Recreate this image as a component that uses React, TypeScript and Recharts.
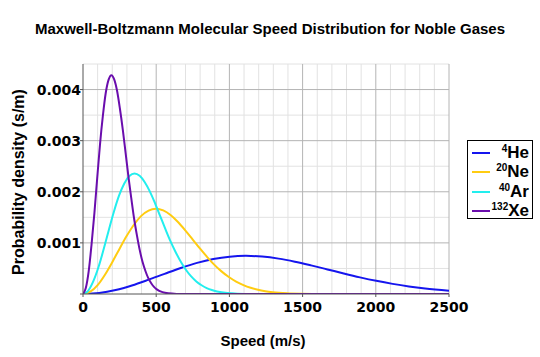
import React from 'react';
import { LineChart, Line, XAxis, YAxis, ReferenceLine } from 'recharts';

// speeds (m/s) and probability density (s/m), per gas
const heSpeed = [0, 111, 223, 334, 445, 557, 668, 779, 890, 1002, 1113, 1224, 1336, 1447, 1558, 1670, 1781, 1892, 2003, 2115, 2226, 2337, 2500];
const heDensity = [0, 0.201e-4, 0.779e-4, 1.668e-4, 2.765e-4, 3.948e-4, 5.093e-4, 6.087e-4, 6.843e-4, 7.307e-4, 7.46e-4, 7.317e-4, 6.919e-4, 6.324e-4, 5.598e-4, 4.809e-4, 4.013e-4, 3.257e-4, 2.573e-4, 1.98e-4, 1.486e-4, 1.087e-4, 0.659e-4];

const neSpeed = [0, 50, 100, 149, 199, 249, 299, 349, 398, 448, 498, 548, 598, 647, 697, 747, 797, 847, 896, 946, 996, 1046, 1096, 1145, 1195, 1245, 1295, 1394, 1494, 1643, 2500];
const neDensity = [0, 0.449e-4, 1.742e-4, 3.727e-4, 6.178e-4, 8.823e-4, 11.381e-4, 13.603e-4, 15.291e-4, 16.327e-4, 16.67e-4, 16.35e-4, 15.46e-4, 14.131e-4, 12.51e-4, 10.746e-4, 8.968e-4, 7.278e-4, 5.75e-4, 4.425e-4, 3.32e-4, 2.429e-4, 1.734e-4, 1.209e-4, 0.822e-4, 0.547e-4, 0.355e-4, 0.14e-4, 0.05e-4, 0.009e-4, 0];

const arSpeed = [0, 35, 70, 106, 141, 176, 211, 246, 282, 317, 352, 387, 422, 458, 493, 528, 563, 598, 634, 669, 704, 739, 774, 810, 845, 880, 915, 986, 1056, 1162, 1267, 2500];
const arDensity = [0, 0.634e-4, 2.462e-4, 5.27e-4, 8.736e-4, 12.474e-4, 16.092e-4, 19.233e-4, 21.621e-4, 23.086e-4, 23.57e-4, 23.117e-4, 21.859e-4, 19.98e-4, 17.688e-4, 15.194e-4, 12.68e-4, 10.291e-4, 8.13e-4, 6.257e-4, 4.694e-4, 3.434e-4, 2.452e-4, 1.709e-4, 1.163e-4, 0.773e-4, 0.502e-4, 0.198e-4, 0.071e-4, 0.013e-4, 0.002e-4, 0];

const xeSpeed = [0, 19, 39, 58, 78, 97, 116, 136, 155, 175, 194, 213, 233, 252, 272, 291, 310, 330, 349, 369, 388, 407, 427, 446, 466, 485, 504, 543, 582, 640, 698, 2500];
const xeDensity = [0, 1.152e-4, 4.473e-4, 9.574e-4, 15.87e-4, 22.662e-4, 29.235e-4, 34.941e-4, 39.279e-4, 41.94e-4, 42.82e-4, 41.998e-4, 39.712e-4, 36.297e-4, 32.135e-4, 27.603e-4, 23.035e-4, 18.695e-4, 14.77e-4, 11.367e-4, 8.528e-4, 6.239e-4, 4.454e-4, 3.104e-4, 2.113e-4, 1.404e-4, 0.912e-4, 0.359e-4, 0.129e-4, 0.024e-4, 0.003e-4, 0];

const xTicks = [0, 500, 1000, 1500, 2000, 2500];
const yTicks = [0, 0.001, 0.002, 0.003, 0.004];
const xMinor = [100, 200, 300, 400, 600, 700, 800, 900, 1100, 1200, 1300, 1400, 1600, 1700, 1800, 1900, 2100, 2200, 2300, 2400];
const yMinor = [0.0005, 0.0015, 0.0025, 0.0035, 0.0045];

const toRows = (speed: number[], density: number[]) => speed.map((v, i) => ({ v, p: density[i] }));

const gases = [
  { mass: '4', name: 'He', color: '#1515ee', data: toRows(heSpeed, heDensity) },
  { mass: '20', name: 'Ne', color: '#ffcc11', data: toRows(neSpeed, neDensity) },
  { mass: '40', name: 'Ar', color: '#22eeee', data: toRows(arSpeed, arDensity) },
  { mass: '132', name: 'Xe', color: '#6a0dad', data: toRows(xeSpeed, xeDensity) },
];

const MINOR = '#e2e2e2';
const MAJOR = '#b4b4b4';
const AXIS = '#555';
const SANS = '"Liberation Sans", Arial, sans-serif';
const tickStyle = { fontSize: 14, fontWeight: 'bold', fill: '#000', fontFamily: '"DejaVu Sans", sans-serif' };

export default function App() {
  return (
    <div style={{ position: 'absolute', left: 0, top: 0, width: 540, height: 357, background: '#fff', fontFamily: SANS }}>
      <div style={{ position: 'absolute', left: 0, top: 20, width: 540, textAlign: 'center', fontSize: 15, fontWeight: 'bold', lineHeight: '18px' }}>
        Maxwell-Boltzmann Molecular Speed Distribution for Noble Gases
      </div>

      <LineChart width={540} height={357} margin={{ top: 64, right: 91, left: 23, bottom: 33 }}>
        {xMinor.map(x => <ReferenceLine key={'xm' + x} x={x} stroke={MINOR} strokeWidth={1} />)}
        {yMinor.map(y => <ReferenceLine key={'ym' + y} y={y} stroke={MINOR} strokeWidth={1} />)}
        {xTicks.slice(1).map(x => <ReferenceLine key={'xM' + x} x={x} stroke={MAJOR} strokeWidth={1} />)}
        {yTicks.slice(1).map(y => <ReferenceLine key={'yM' + y} y={y} stroke={MAJOR} strokeWidth={1} />)}
        <XAxis dataKey="v" type="number" domain={[0, 2500]} ticks={xTicks} allowDataOverflow
          stroke={AXIS} tickSize={3} tickMargin={5} height={30} tick={tickStyle} />
        <YAxis type="number" domain={[0, 0.0045]} ticks={yTicks} allowDataOverflow
          stroke={AXIS} tickSize={3} tickMargin={-1} width={60} tick={tickStyle}
          tickFormatter={(v: number) => (v === 0 ? '' : v.toFixed(3))} />
        {gases.map(g => (
          <Line key={g.name} data={g.data} dataKey="p" type="monotone" stroke={g.color}
            strokeWidth={2} dot={false} isAnimationActive={false} />
        ))}
      </LineChart>

      <div style={{ position: 'absolute', left: 19, top: 182, transform: 'translate(-50%, -50%) rotate(-90deg)', whiteSpace: 'nowrap', fontSize: 16, fontWeight: 'bold' }}>
        Probability density (s/m)
      </div>
      <div style={{ position: 'absolute', left: 263, top: 340, transform: 'translate(-50%, -50%)', whiteSpace: 'nowrap', fontSize: 15, fontWeight: 'bold' }}>
        Speed (m/s)
      </div>

      <div style={{ position: 'absolute', left: 467, top: 140, width: 64, height: 77, border: '1px solid #000', background: '#fff' }}>
        {gases.map((g, i) => (
          <div key={g.name} style={{ position: 'absolute', left: 0, top: 2 + i * 19.3, width: 64, height: 19 }}>
            <div style={{ position: 'absolute', left: 4, top: 9, width: 18, height: 2, background: g.color }} />
            <div style={{ position: 'absolute', right: 3, top: 0, fontSize: 17, fontWeight: 'bold', lineHeight: '19px', whiteSpace: 'nowrap' }}>
              <sup style={{ fontSize: 10, verticalAlign: 'top', lineHeight: '12px' }}>{g.mass}</sup>{g.name}
            </div>
          </div>
        ))}
      </div>
    </div>
  );
}
